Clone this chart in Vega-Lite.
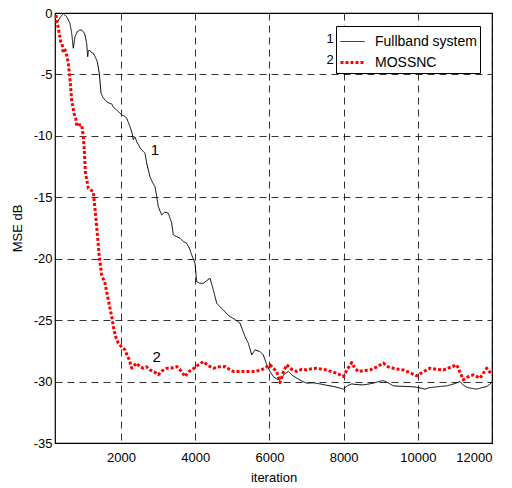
{
  "$schema": "https://vega.github.io/schema/vega-lite/v6.json",
  "width": 437,
  "height": 430,
  "autosize": "none",
  "padding": {"left": 55, "top": 13, "right": 20, "bottom": 45},
  "background": "white",
  "config": {
    "font": "Liberation Sans",
    "view": {"stroke": "black", "strokeWidth": 1.2},
    "axis": {
      "domain": false,
      "ticks": false,
      "grid": true,
      "gridColor": "black",
      "gridOpacity": 0.8,
      "gridDash": [7, 5],
      "gridWidth": 1,
      "labelFont": "Liberation Sans",
      "labelFontSize": 13,
      "labelColor": "black",
      "titleFont": "Liberation Sans",
      "titleFontSize": 13,
      "titleFontWeight": "normal",
      "titleColor": "black"
    },
    "axisX": {"labelPadding": 8, "titlePadding": 7},
    "axisY": {"labelPadding": 3, "titlePadding": 9}
  },
  "datasets": {
    "curves": [
      {"s":"Fullband system","x":266,"y":-0.84},{"s":"Fullband system","x":330,"y":-0.5},{"s":"Fullband system","x":400,"y":-0.2},{"s":"Fullband system","x":444,"y":-0.05},{"s":"Fullband system","x":535,"y":-0.3},{"s":"Fullband system","x":624,"y":-0.84},{"s":"Fullband system","x":670,"y":-1.65},{"s":"Fullband system","x":714,"y":-2.87},{"s":"Fullband system","x":740,"y":-2.3},{"s":"Fullband system","x":759,"y":-1.93},{"s":"Fullband system","x":821,"y":-1.52},{"s":"Fullband system","x":880,"y":-1.4},{"s":"Fullband system","x":940,"y":-1.38},{"s":"Fullband system","x":1000,"y":-1.6},{"s":"Fullband system","x":1029,"y":-1.79},{"s":"Fullband system","x":1074,"y":-2.47},{"s":"Fullband system","x":1101,"y":-3.55},{"s":"Fullband system","x":1120,"y":-3.1},{"s":"Fullband system","x":1145,"y":-3.01},{"s":"Fullband system","x":1200,"y":-3.2},{"s":"Fullband system","x":1253,"y":-3.28},{"s":"Fullband system","x":1310,"y":-3.6},{"s":"Fullband system","x":1360,"y":-3.96},{"s":"Fullband system","x":1414,"y":-4.91},{"s":"Fullband system","x":1440,"y":-5.8},{"s":"Fullband system","x":1460,"y":-6.53},{"s":"Fullband system","x":1520,"y":-6.9},{"s":"Fullband system","x":1568,"y":-7.08},{"s":"Fullband system","x":1650,"y":-7.3},{"s":"Fullband system","x":1748,"y":-7.4},{"s":"Fullband system","x":1800,"y":-7.7},{"s":"Fullband system","x":1883,"y":-7.89},{"s":"Fullband system","x":1950,"y":-8.1},{"s":"Fullband system","x":2018,"y":-8.3},{"s":"Fullband system","x":2100,"y":-8.4},{"s":"Fullband system","x":2153,"y":-8.57},{"s":"Fullband system","x":2242,"y":-9.25},{"s":"Fullband system","x":2300,"y":-9.8},{"s":"Fullband system","x":2331,"y":-10.3},{"s":"Fullband system","x":2380,"y":-10.1},{"s":"Fullband system","x":2422,"y":-10.47},{"s":"Fullband system","x":2500,"y":-10.9},{"s":"Fullband system","x":2557,"y":-11.15},{"s":"Fullband system","x":2646,"y":-11.4},{"s":"Fullband system","x":2692,"y":-12.23},{"s":"Fullband system","x":2781,"y":-13.32},{"s":"Fullband system","x":2850,"y":-13.8},{"s":"Fullband system","x":2916,"y":-14.13},{"s":"Fullband system","x":2960,"y":-14.9},{"s":"Fullband system","x":3005,"y":-15.76},{"s":"Fullband system","x":3050,"y":-16.1},{"s":"Fullband system","x":3096,"y":-16.44},{"s":"Fullband system","x":3180,"y":-16.2},{"s":"Fullband system","x":3275,"y":-16.3},{"s":"Fullband system","x":3366,"y":-17.1},{"s":"Fullband system","x":3409,"y":-18.06},{"s":"Fullband system","x":3500,"y":-18.2},{"s":"Fullband system","x":3590,"y":-18.33},{"s":"Fullband system","x":3680,"y":-18.6},{"s":"Fullband system","x":3770,"y":-18.74},{"s":"Fullband system","x":3850,"y":-19.2},{"s":"Fullband system","x":3905,"y":-19.69},{"s":"Fullband system","x":3994,"y":-20.37},{"s":"Fullband system","x":4040,"y":-21.86},{"s":"Fullband system","x":4120,"y":-22.0},{"s":"Fullband system","x":4218,"y":-22.0},{"s":"Fullband system","x":4300,"y":-21.8},{"s":"Fullband system","x":4399,"y":-21.59},{"s":"Fullband system","x":4488,"y":-22.54},{"s":"Fullband system","x":4579,"y":-23.62},{"s":"Fullband system","x":4660,"y":-23.9},{"s":"Fullband system","x":4757,"y":-24.17},{"s":"Fullband system","x":4850,"y":-24.5},{"s":"Fullband system","x":4938,"y":-24.71},{"s":"Fullband system","x":5050,"y":-24.9},{"s":"Fullband system","x":5207,"y":-25.25},{"s":"Fullband system","x":5342,"y":-26.34},{"s":"Fullband system","x":5431,"y":-26.88},{"s":"Fullband system","x":5523,"y":-27.83},{"s":"Fullband system","x":5612,"y":-27.42},{"s":"Fullband system","x":5747,"y":-27.56},{"s":"Fullband system","x":5836,"y":-27.83},{"s":"Fullband system","x":5927,"y":-28.64},{"s":"Fullband system","x":6020,"y":-29.2},{"s":"Fullband system","x":6105,"y":-29.59},{"s":"Fullband system","x":6200,"y":-29.8},{"s":"Fullband system","x":6286,"y":-29.86},{"s":"Fullband system","x":6400,"y":-29.4},{"s":"Fullband system","x":6510,"y":-29.18},{"s":"Fullband system","x":6620,"y":-29.5},{"s":"Fullband system","x":6736,"y":-29.72},{"s":"Fullband system","x":6870,"y":-29.95},{"s":"Fullband system","x":7006,"y":-30.13},{"s":"Fullband system","x":7180,"y":-30.1},{"s":"Fullband system","x":7364,"y":-30.19},{"s":"Fullband system","x":7540,"y":-30.3},{"s":"Fullband system","x":7724,"y":-30.4},{"s":"Fullband system","x":7870,"y":-30.5},{"s":"Fullband system","x":7993,"y":-30.62},{"s":"Fullband system","x":8100,"y":-30.35},{"s":"Fullband system","x":8219,"y":-30.19},{"s":"Fullband system","x":8380,"y":-30.25},{"s":"Fullband system","x":8532,"y":-30.27},{"s":"Fullband system","x":8680,"y":-30.2},{"s":"Fullband system","x":8802,"y":-30.13},{"s":"Fullband system","x":8940,"y":-30.0},{"s":"Fullband system","x":9071,"y":-29.92},{"s":"Fullband system","x":9200,"y":-30.1},{"s":"Fullband system","x":9341,"y":-30.35},{"s":"Fullband system","x":9520,"y":-30.38},{"s":"Fullband system","x":9702,"y":-30.4},{"s":"Fullband system","x":9850,"y":-30.42},{"s":"Fullband system","x":9971,"y":-30.46},{"s":"Fullband system","x":10100,"y":-30.55},{"s":"Fullband system","x":10195,"y":-30.62},{"s":"Fullband system","x":10300,"y":-30.5},{"s":"Fullband system","x":10419,"y":-30.46},{"s":"Fullband system","x":10600,"y":-30.4},{"s":"Fullband system","x":10780,"y":-30.35},{"s":"Fullband system","x":10960,"y":-30.2},{"s":"Fullband system","x":11138,"y":-30.0},{"s":"Fullband system","x":11230,"y":-30.3},{"s":"Fullband system","x":11318,"y":-30.46},{"s":"Fullband system","x":11450,"y":-30.55},{"s":"Fullband system","x":11588,"y":-30.62},{"s":"Fullband system","x":11720,"y":-30.5},{"s":"Fullband system","x":11858,"y":-30.4},{"s":"Fullband system","x":11950,"y":-30.2},{"s":"Fullband system","x":12000,"y":-30.0},
      {"s":"MOSSNC","x":247,"y":-0.16},{"s":"MOSSNC","x":282,"y":-0.84},{"s":"MOSSNC","x":336,"y":-1.65},{"s":"MOSSNC","x":374,"y":-2.33},{"s":"MOSSNC","x":410,"y":-2.5},{"s":"MOSSNC","x":440,"y":-3.2},{"s":"MOSSNC","x":490,"y":-3.01},{"s":"MOSSNC","x":540,"y":-3.5},{"s":"MOSSNC","x":580,"y":-4.09},{"s":"MOSSNC","x":624,"y":-5.45},{"s":"MOSSNC","x":670,"y":-7.08},{"s":"MOSSNC","x":732,"y":-8.16},{"s":"MOSSNC","x":780,"y":-8.6},{"s":"MOSSNC","x":805,"y":-9.2},{"s":"MOSSNC","x":860,"y":-9.1},{"s":"MOSSNC","x":940,"y":-9.11},{"s":"MOSSNC","x":983,"y":-10.06},{"s":"MOSSNC","x":1010,"y":-11.2},{"s":"MOSSNC","x":1040,"y":-13.0},{"s":"MOSSNC","x":1118,"y":-14.27},{"s":"MOSSNC","x":1253,"y":-14.54},{"s":"MOSSNC","x":1300,"y":-16.0},{"s":"MOSSNC","x":1344,"y":-17.39},{"s":"MOSSNC","x":1414,"y":-19.83},{"s":"MOSSNC","x":1479,"y":-21.32},{"s":"MOSSNC","x":1568,"y":-22.0},{"s":"MOSSNC","x":1657,"y":-23.35},{"s":"MOSSNC","x":1748,"y":-24.71},{"s":"MOSSNC","x":1810,"y":-25.79},{"s":"MOSSNC","x":1870,"y":-26.5},{"s":"MOSSNC","x":1927,"y":-26.88},{"s":"MOSSNC","x":2020,"y":-27.2},{"s":"MOSSNC","x":2107,"y":-27.42},{"s":"MOSSNC","x":2170,"y":-27.9},{"s":"MOSSNC","x":2223,"y":-28.23},{"s":"MOSSNC","x":2288,"y":-28.91},{"s":"MOSSNC","x":2350,"y":-28.7},{"s":"MOSSNC","x":2422,"y":-28.5},{"s":"MOSSNC","x":2510,"y":-28.8},{"s":"MOSSNC","x":2601,"y":-28.91},{"s":"MOSSNC","x":2690,"y":-28.8},{"s":"MOSSNC","x":2781,"y":-29.05},{"s":"MOSSNC","x":2890,"y":-29.2},{"s":"MOSSNC","x":3005,"y":-29.45},{"s":"MOSSNC","x":3120,"y":-29.1},{"s":"MOSSNC","x":3231,"y":-28.91},{"s":"MOSSNC","x":3360,"y":-28.9},{"s":"MOSSNC","x":3500,"y":-28.78},{"s":"MOSSNC","x":3610,"y":-29.1},{"s":"MOSSNC","x":3725,"y":-29.59},{"s":"MOSSNC","x":3820,"y":-29.2},{"s":"MOSSNC","x":3905,"y":-29.05},{"s":"MOSSNC","x":4060,"y":-28.7},{"s":"MOSSNC","x":4218,"y":-28.37},{"s":"MOSSNC","x":4350,"y":-28.7},{"s":"MOSSNC","x":4488,"y":-28.91},{"s":"MOSSNC","x":4650,"y":-28.8},{"s":"MOSSNC","x":4803,"y":-28.78},{"s":"MOSSNC","x":4920,"y":-29.0},{"s":"MOSSNC","x":5027,"y":-29.18},{"s":"MOSSNC","x":5207,"y":-29.18},{"s":"MOSSNC","x":5388,"y":-29.18},{"s":"MOSSNC","x":5566,"y":-29.18},{"s":"MOSSNC","x":5747,"y":-29.1},{"s":"MOSSNC","x":5880,"y":-28.9},{"s":"MOSSNC","x":6016,"y":-28.64},{"s":"MOSSNC","x":6100,"y":-28.9},{"s":"MOSSNC","x":6196,"y":-29.18},{"s":"MOSSNC","x":6286,"y":-30.08},{"s":"MOSSNC","x":6380,"y":-29.2},{"s":"MOSSNC","x":6466,"y":-28.64},{"s":"MOSSNC","x":6600,"y":-29.0},{"s":"MOSSNC","x":6736,"y":-29.18},{"s":"MOSSNC","x":6870,"y":-29.0},{"s":"MOSSNC","x":7006,"y":-29.05},{"s":"MOSSNC","x":7140,"y":-28.95},{"s":"MOSSNC","x":7275,"y":-28.91},{"s":"MOSSNC","x":7410,"y":-29.0},{"s":"MOSSNC","x":7545,"y":-29.05},{"s":"MOSSNC","x":7680,"y":-29.2},{"s":"MOSSNC","x":7814,"y":-29.32},{"s":"MOSSNC","x":7993,"y":-29.59},{"s":"MOSSNC","x":8100,"y":-29.0},{"s":"MOSSNC","x":8219,"y":-28.45},{"s":"MOSSNC","x":8300,"y":-28.9},{"s":"MOSSNC","x":8398,"y":-29.18},{"s":"MOSSNC","x":8550,"y":-29.1},{"s":"MOSSNC","x":8713,"y":-29.05},{"s":"MOSSNC","x":8900,"y":-28.8},{"s":"MOSSNC","x":9071,"y":-28.5},{"s":"MOSSNC","x":9200,"y":-28.8},{"s":"MOSSNC","x":9341,"y":-28.91},{"s":"MOSSNC","x":9480,"y":-29.0},{"s":"MOSSNC","x":9611,"y":-29.05},{"s":"MOSSNC","x":9800,"y":-29.3},{"s":"MOSSNC","x":9971,"y":-29.53},{"s":"MOSSNC","x":10150,"y":-29.2},{"s":"MOSSNC","x":10330,"y":-28.91},{"s":"MOSSNC","x":10510,"y":-29.0},{"s":"MOSSNC","x":10689,"y":-29.05},{"s":"MOSSNC","x":10870,"y":-28.85},{"s":"MOSSNC","x":11049,"y":-28.64},{"s":"MOSSNC","x":11228,"y":-29.86},{"s":"MOSSNC","x":11360,"y":-29.6},{"s":"MOSSNC","x":11498,"y":-29.45},{"s":"MOSSNC","x":11678,"y":-29.72},{"s":"MOSSNC","x":11858,"y":-28.91},{"s":"MOSSNC","x":12000,"y":-29.45}
    ],
    "labels": [
      {"x": 2916, "y": -11.15, "t": "1", "size": 15},
      {"x": 2962, "y": -27.97, "t": "2", "size": 15},
      {"x": 7634, "y": -2.1, "t": "1", "size": 13},
      {"x": 7634, "y": -3.85, "t": "2", "size": 13}
    ]
  },
  "layer": [
    {
      "data": {"name": "curves"},
      "mark": {"type": "line", "strokeCap": "butt", "strokeJoin": "round"},
      "encoding": {
        "x": {
          "field": "x", "type": "quantitative",
          "scale": {"domain": [220, 12000], "nice": false, "zero": false},
          "axis": {"title": "iteration", "values": [2000, 4000, 6000, 8000, 10000, 12000], "labelExpr": "datum.value + ''"}
        },
        "y": {
          "field": "y", "type": "quantitative",
          "scale": {"domain": [-35, 0], "nice": false},
          "axis": {"title": "MSE dB", "values": [-35, -30, -25, -20, -15, -10, -5, 0], "labelExpr": "datum.value + ''"}
        },
        "color": {
          "field": "s", "type": "nominal",
          "scale": {"domain": ["Fullband system", "MOSSNC"], "range": ["black", "#ff0000"]},
          "legend": {
            "title": null,
            "orient": "none",
            "legendX": 281,
            "legendY": 13,
            "fillColor": "white",
            "strokeColor": "black",
            "padding": 3,
            "symbolType": "stroke",
            "symbolSize": 576,
            "labelFont": "Liberation Sans",
            "labelFontSize": 14,
            "labelColor": "black",
            "labelOffset": 9,
            "rowPadding": -3,
            "encode": {"symbols": {"update": {"strokeWidth": {"signal": "datum.value === 'MOSSNC' ? 3 : 1"}}}}
          }
        },
        "strokeDash": {
          "field": "s", "type": "nominal",
          "scale": {"domain": ["Fullband system", "MOSSNC"], "range": [[1, 0], [3, 2]]},
          "legend": {"title": null}
        },
        "strokeWidth": {
          "field": "s", "type": "nominal",
          "scale": {"domain": ["Fullband system", "MOSSNC"], "range": [1, 3]},
          "legend": null
        }
      }
    },
    {
      "data": {"name": "labels"},
      "mark": {"type": "text", "font": "Liberation Sans", "color": "black", "align": "center", "baseline": "middle"},
      "encoding": {
        "x": {"field": "x", "type": "quantitative"},
        "y": {"field": "y", "type": "quantitative"},
        "text": {"field": "t"},
        "size": {"field": "size", "type": "quantitative", "scale": null}
      }
    }
  ]
}
